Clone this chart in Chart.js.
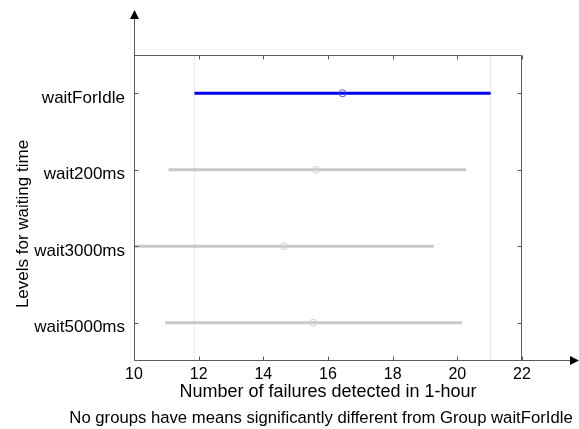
<!DOCTYPE html>
<html>
<head>
<meta charset="utf-8">
<script src="https://cdn.jsdelivr.net/npm/chart.js@4.4.0/dist/chart.umd.min.js"></script>
<style>
  body { margin: 0; background: #fff; }
  #chart { display: block; }
</style>
</head>
<body>
<canvas id="chart" width="579" height="429"></canvas>
<script>
// Groups top to bottom, with comparison interval and mean
const groups = ['waitForIdle', 'wait200ms', 'wait3000ms', 'wait5000ms'];
const means = [16.45, 15.64, 14.65, 15.54];
const lowers = [11.87, 11.07, 10.03, 10.96];
const uppers = [21.03, 20.27, 19.27, 20.15];
const xTicks = [10, 12, 14, 16, 18, 20, 22];

const FRAME = '#5a5a5a';
const FONT = '"Liberation Sans", Arial, sans-serif';
Chart.defaults.font.family = FONT;
Chart.defaults.color = '#000';

const datasets = [];

// light reference lines at the bounds of the selected group
[lowers[0], uppers[0]].forEach(v => {
  datasets.push({
    type: 'line',
    data: [{ x: v, y: -0.5 }, { x: v, y: groups.length - 0.5 }],
    borderColor: '#ebebeb',
    borderWidth: 1,
    pointRadius: 0,
    order: 10
  });
});

// comparison intervals
groups.forEach((g, i) => {
  datasets.push({
    type: 'line',
    label: g,
    data: [{ x: lowers[i], y: i }, { x: uppers[i], y: i }],
    borderColor: i === 0 ? '#0000f0' : '#c8c8c8',
    borderWidth: 3,
    pointRadius: 0,
    order: 5
  });
});

// group means
datasets.push({
  type: 'scatter',
  data: means.map((m, i) => ({ x: m, y: i })),
  pointStyle: 'circle',
  pointRadius: 3.5,
  borderWidth: 1,
  borderColor: means.map((m, i) => i === 0 ? '#4d4dff' : '#d0d0d0'),
  backgroundColor: 'rgba(0,0,0,0)',
  order: 1
});

const framePlugin = {
  id: 'frame',
  afterDraw(chart) {
    const { ctx, chartArea: a, scales } = chart;
    const L = a.left + 0.5, R = a.right - 0.5, T = a.top + 0.5, B = a.bottom - 0.5;
    ctx.save();
    ctx.strokeStyle = FRAME;
    ctx.fillStyle = '#000';
    ctx.lineWidth = 1;
    ctx.beginPath();
    // left axis with arrow
    ctx.moveTo(L, 18); ctx.lineTo(L, B);
    // bottom axis with arrow
    ctx.moveTo(L, B); ctx.lineTo(571, B);
    // top and right box
    ctx.moveTo(L, T); ctx.lineTo(R, T); ctx.lineTo(R, B);
    // ticks
    xTicks.forEach(v => {
      const px = Math.round(scales.x.getPixelForValue(v)) + 0.5;
      ctx.moveTo(px, B); ctx.lineTo(px, B - 4);
      ctx.moveTo(px, T); ctx.lineTo(px, T + 4);
    });
    groups.forEach((g, i) => {
      const py = Math.round(scales.y.getPixelForValue(i)) + 0.5;
      ctx.moveTo(L, py); ctx.lineTo(L + 4, py);
      ctx.moveTo(R, py); ctx.lineTo(R - 4, py);
    });
    ctx.stroke();
    // arrow heads
    ctx.beginPath();
    ctx.moveTo(L, 10); ctx.lineTo(L - 4.5, 19); ctx.lineTo(L + 4.5, 19); ctx.closePath();
    ctx.fill();
    ctx.beginPath();
    ctx.moveTo(579, B); ctx.lineTo(570, B - 4.5); ctx.lineTo(570, B + 4.5); ctx.closePath();
    ctx.fill();

    // y axis title
    ctx.font = '17px ' + FONT;
    ctx.textAlign = 'center';
    ctx.textBaseline = 'alphabetic';
    ctx.save();
    ctx.translate(28, 224);
    ctx.rotate(-Math.PI / 2);
    ctx.fillText('Levels for waiting time', 0, 0);
    ctx.restore();

    // note under the chart
    ctx.font = '16.7px ' + FONT;
    ctx.fillText('No groups have means significantly different from Group waitForIdle', 321, 423);
    ctx.restore();
  }
};

new Chart(document.getElementById('chart'), {
  data: { datasets },
  options: {
    responsive: false,
    animation: false,
    events: [],
    layout: { padding: { top: 55, right: 57, left: 0, bottom: 0 } },
    plugins: { legend: { display: false }, tooltip: { enabled: false } },
    scales: {
      x: {
        type: 'linear',
        min: 10,
        max: 22,
        afterBuildTicks: s => { s.ticks = xTicks.map(v => ({ value: v })); },
        afterFit: s => { s.height = 68; },
        grid: { display: false, drawTicks: false },
        border: { display: false },
        ticks: { padding: 4, font: { size: 16 }, maxRotation: 0 },
        title: {
          display: true,
          text: 'Number of failures detected in 1-hour',
          font: { size: 18 },
          padding: { top: 0, bottom: 26 }
        }
      },
      y: {
        type: 'linear',
        min: -0.5,
        max: groups.length - 0.5,
        reverse: true,
        afterBuildTicks: s => { s.ticks = groups.map((g, i) => ({ value: i })); },
        afterFit: s => { s.width = 134; },
        grid: { display: false, drawTicks: false },
        border: { display: false },
        ticks: {
          padding: 9,
          labelOffset: 5,
          font: { size: 17 },
          callback: v => groups[v]
        }
      }
    }
  },
  plugins: [framePlugin]
});
</script>
</body>
</html>
